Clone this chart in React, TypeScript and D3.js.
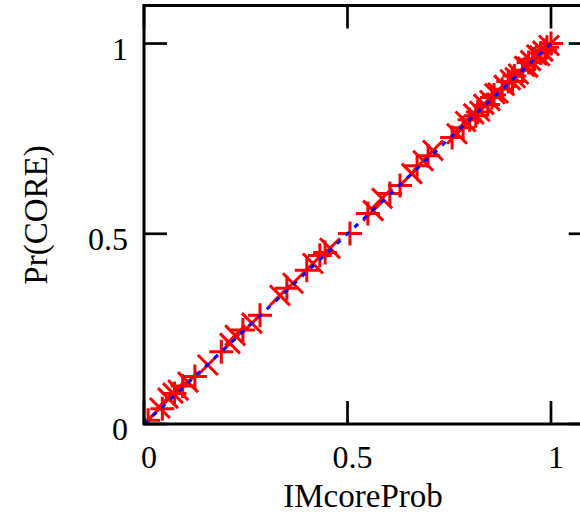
import React from "react";
import * as d3 from "d3";

const crossX = [0.0, 0.039, 0.059, 0.071, 0.084, 0.108, 0.157, 0.211, 0.224, 0.265, 0.334, 0.366, 0.415, 0.457, 0.563, 0.585, 0.658, 0.686, 0.71, 0.769, 0.79, 0.81, 0.825, 0.835, 0.85, 0.862, 0.87, 0.885, 0.9, 0.912, 0.92, 0.935, 0.943, 0.95, 0.965, 0.972, 0.98, 0.995];
const crossY = [0.0, 0.042, 0.068, 0.081, 0.089, 0.11, 0.155, 0.212, 0.233, 0.265, 0.338, 0.37, 0.422, 0.462, 0.561, 0.593, 0.658, 0.692, 0.719, 0.763, 0.795, 0.815, 0.822, 0.84, 0.85, 0.868, 0.87, 0.89, 0.905, 0.91, 0.92, 0.94, 0.938, 0.955, 0.97, 0.968, 0.98, 0.995];
const plusX = [0.01, 0.045, 0.075, 0.095, 0.125, 0.19, 0.243, 0.285, 0.351, 0.4, 0.432, 0.445, 0.506, 0.55, 0.604, 0.629, 0.671, 0.698, 0.757, 0.784, 0.8, 0.815, 0.82, 0.845, 0.855, 0.86, 0.88, 0.895, 0.905, 0.91, 0.93, 0.945, 0.955, 0.96, 0.975, 0.985, 0.99, 1.0];
const plusY = [0.01, 0.04, 0.08, 0.1, 0.125, 0.19, 0.247, 0.286, 0.357, 0.404, 0.443, 0.451, 0.501, 0.553, 0.606, 0.627, 0.679, 0.705, 0.753, 0.779, 0.8, 0.81, 0.82, 0.84, 0.858, 0.865, 0.88, 0.9, 0.9, 0.915, 0.93, 0.95, 0.952, 0.96, 0.975, 0.982, 0.99, 1.0];
const refLine = [0, 1];
const xTicks = [0, 0.5, 1];
const yTicks = [0, 0.5, 1];
const xTickLabels = ["0", "0.5", "1"];
const yTickLabels = ["0", "0.5", "1"];

export default function App() {
  const W = 580, H = 516;
  const L = 144, R = 591.7, T = 5.5, B = 424;
  const x = d3.scaleLinear().domain([0, 1.1]).range([L, R]);
  const y = d3.scaleLinear().domain([0, 1.1]).range([B, T]);
  const tl = 23;
  const font = "'Liberation Serif', 'Times New Roman', serif";
  const line = d3.line<number>().x((d) => x(d)).y((d) => y(d));
  const red = "#ff0000";
  const ms = 10;
  const ps = 12;
  return (
    <svg width={W} height={H} style={{ position: "absolute", left: 0, top: 0, background: "#fff" }}>
      <defs>
        <clipPath id="pc">
          <rect x={L} y={T} width={R - L} height={B - T} />
        </clipPath>
      </defs>
      <g clipPath="url(#pc)">
        {crossX.map((v, i) => {
          const cx = x(v), cy = y(crossY[i]);
          return (
            <path key={"c" + i} d={`M${cx - ms},${cy - ms}L${cx + ms},${cy + ms}M${cx - ms},${cy + ms}L${cx + ms},${cy - ms}`} stroke={red} strokeWidth={3} fill="none" />
          );
        })}
        {plusX.map((v, i) => {
          const cx = x(v), cy = y(plusY[i]);
          return (
            <path key={"p" + i} d={`M${cx - ps},${cy}L${cx + ps},${cy}M${cx},${cy - ps}L${cx},${cy + ps}`} stroke={red} strokeWidth={3} fill="none" />
          );
        })}
        <path d={line(refLine) || ""} stroke="#0000ff" strokeWidth={3} strokeDasharray="5,7" fill="none" />
      </g>
      <rect x={L} y={T} width={R - L} height={B - T} fill="none" stroke="#000" strokeWidth={3} />
      {xTicks.map((t) => (
        <g key={"xt" + t}>
          <line x1={x(t)} x2={x(t)} y1={B} y2={B - tl} stroke="#000" strokeWidth={2.7} />
          <line x1={x(t)} x2={x(t)} y1={T} y2={T + tl} stroke="#000" strokeWidth={2.7} />
        </g>
      ))}
      {yTicks.map((t) => (
        <g key={"yt" + t}>
          <line x1={L} x2={L + tl} y1={y(t)} y2={y(t)} stroke="#000" strokeWidth={2.7} />
          <line x1={R} x2={R - tl} y1={y(t)} y2={y(t)} stroke="#000" strokeWidth={2.7} />
        </g>
      ))}
      {xTicks.map((t, i) => (
        <text key={"xl" + t} x={x(t) + 5} y={468} textAnchor="middle" fontFamily={font} fontSize={32} fill="#000">
          {xTickLabels[i]}
        </text>
      ))}
      {yTicks.map((t, i) => (
        <text key={"yl" + t} x={128} y={y(t) + 16} textAnchor="end" fontFamily={font} fontSize={32} fill="#000">
          {yTickLabels[i]}
        </text>
      ))}
      <text x={363} y={507} textAnchor="middle" fontFamily={font} fontSize={33} fill="#000">
        IMcoreProb
      </text>
      <text transform={`translate(47,215) rotate(-90)`} textAnchor="middle" fontFamily={font} fontSize={33} fill="#000">
        Pr(CORE)
      </text>
    </svg>
  );
}
